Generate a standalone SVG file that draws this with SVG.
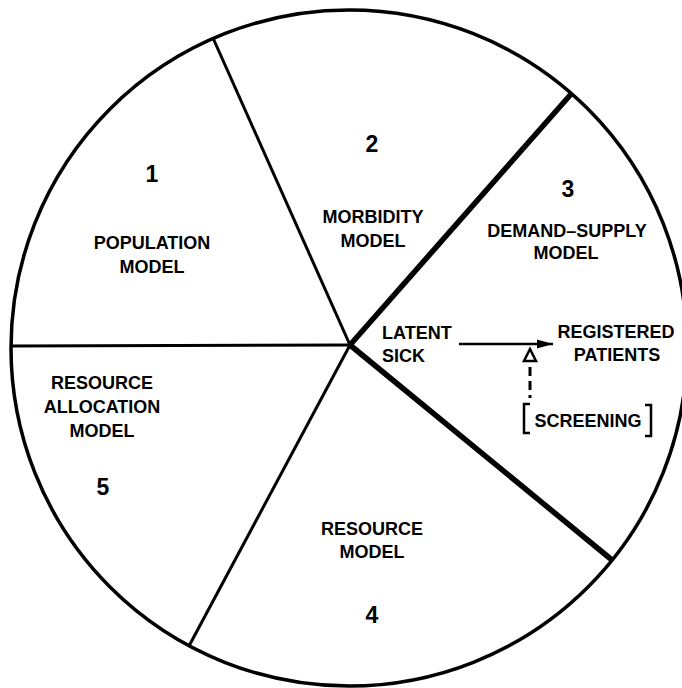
<svg xmlns="http://www.w3.org/2000/svg" width="682" height="688" viewBox="0 0 682 688">
<style>
.t{font-family:"Liberation Sans",Arial,sans-serif;font-weight:bold;font-size:18px;fill:#000;text-anchor:middle}
.n{font-size:23px}
.l{text-anchor:start}
.thin{stroke:#000;stroke-width:3;fill:none}
.thick{stroke:#000;stroke-width:5.5;fill:none}
</style>
<defs>
<marker id="ah" markerWidth="16" markerHeight="10" refX="16" refY="5" orient="auto" markerUnits="userSpaceOnUse">
<path d="M0,0.5 L16,5 L0,9.5 Z" fill="#000"/>
</marker>
</defs>
<rect width="682" height="688" fill="#fff"/>
<g id="circle">
<circle cx="349" cy="348" r="338" fill="none" stroke="#000" stroke-width="3.5"/>
</g>
<g id="connectors">
<line class="thin" x1="350" y1="345" x2="10" y2="346"/>
<line class="thin" x1="350" y1="345" x2="213" y2="38"/>
<line class="thick" x1="350" y1="345" x2="572" y2="93"/>
<line class="thick" x1="350" y1="345" x2="612" y2="560"/>
<line class="thin" x1="350" y1="345" x2="189" y2="646"/>
<line x1="459" y1="344" x2="553" y2="344" stroke="#000" stroke-width="2.5" marker-end="url(#ah)"/>
<line x1="530" y1="367" x2="530" y2="398" stroke="#000" stroke-width="3" stroke-dasharray="9,5"/>
<path d="M530,349 L536,361 L524,361 Z" fill="#fff" stroke="#000" stroke-width="2.5"/>
</g>
<g id="node1">
<text class="t n" x="152" y="182">1</text>
<text class="t" x="152" y="249">POPULATION</text>
<text class="t" x="152" y="273">MODEL</text>
</g>
<g id="node2">
<text class="t n" x="372" y="152">2</text>
<text class="t" x="373" y="223">MORBIDITY</text>
<text class="t" x="373" y="247">MODEL</text>
</g>
<g id="node3">
<text class="t n" x="568" y="197">3</text>
<text class="t" x="567" y="237">DEMAND–SUPPLY</text>
<text class="t" x="566" y="259">MODEL</text>
</g>
<g id="latent">
<text class="t l" x="382" y="339">LATENT</text>
<text class="t l" x="382" y="362">SICK</text>
</g>
<g id="registered">
<text class="t" x="616" y="338">REGISTERED</text>
<text class="t" x="617" y="361">PATIENTS</text>
</g>
<g id="screening">
<path d="M530,404 L524,404 L524,433 L530,433" fill="none" stroke="#000" stroke-width="2.5"/>
<path d="M645,405 L651,405 L651,436 L645,436" fill="none" stroke="#000" stroke-width="2.5"/>
<text class="t" x="588" y="427">SCREENING</text>
</g>
<g id="node5">
<text class="t" x="102" y="389">RESOURCE</text>
<text class="t" x="102" y="413">ALLOCATION</text>
<text class="t" x="102" y="437">MODEL</text>
<text class="t n" x="103" y="495">5</text>
</g>
<g id="node4">
<text class="t" x="372" y="535">RESOURCE</text>
<text class="t" x="372" y="558">MODEL</text>
<text class="t n" x="372" y="623">4</text>
</g>
</svg>
